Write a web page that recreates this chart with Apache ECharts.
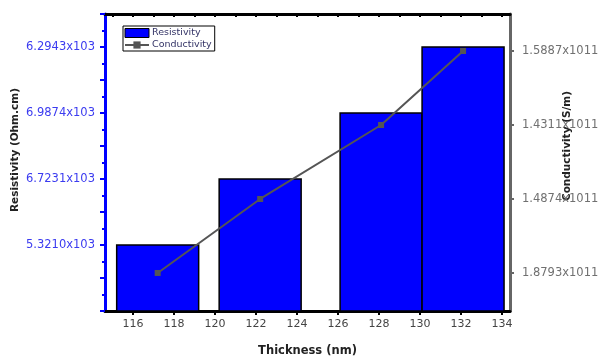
<!DOCTYPE html>
<html>
<head>
<meta charset="utf-8">
<script src="https://cdn.jsdelivr.net/npm/echarts@6/dist/echarts.min.js"></script>
<style>
  html, body { margin: 0; padding: 0; background: #fff; }
  #chart { width: 603px; height: 359px; }
</style>
</head>
<body>
<div id="chart"></div>
<script>
// Film thickness (nm) of each sample
const thickness = [117.2, 122.2, 128.1, 132.1];
// Resistivity: level on the left scale and the label printed at that level
const resistivityLevel = [1, 2, 3, 4];
const resistivityTicks = ['5.3210x103', '6.7231x103', '6.9874x103', '6.2943x103'];
// Conductivity: level on the right scale and the label printed at that level
const conductivityLevel = [1, 2, 3, 4];
const conductivityTicks = ['1.8793x1011', '1.4874x1011', '1.4311x1011', '1.5887x1011'];
// Thickness tick labels
const thicknessTicks = [116, 118, 120, 122, 124, 126, 128, 130, 132, 134];
const barSpan = 4; // bar width in nm

const FONT = 'DejaVu Sans, Verdana, sans-serif';
const chart = echarts.init(document.getElementById('chart'));

const topTicks = [];
for (let t = 115; t <= 134; t++) topTicks.push(t);

chart.setOption({
  animation: false,
  textStyle: { fontFamily: FONT },
  grid: { left: 105, right: 93, top: 14, bottom: 48, outerBoundsMode: 'none', containLabel: false },
  legend: {
    orient: 'vertical',
    left: 123, top: 26,
    padding: [2, 3, 1, 1],
    itemGap: 2,
    itemWidth: 24, itemHeight: 9,
    borderColor: '#000', borderWidth: 1,
    textStyle: { fontSize: 9.5, color: '#333366', fontFamily: FONT, padding: [0, 0, 0, -2] },
    data: [
      { name: 'Resistivity', icon: 'rect', itemStyle: { color: '#0000ff', borderColor: '#000', borderWidth: 1 } },
      { name: 'Conductivity' }
    ]
  },
  xAxis: [
    {
      type: 'value', position: 'bottom', min: 114.63, max: 134.39,
      name: 'Thickness (nm)', nameLocation: 'middle', nameGap: 34, nameMoveOverlap: false,
      nameTextStyle: { fontSize: 11.5, fontWeight: 'bold', color: '#222', fontFamily: FONT },
      axisLine: { lineStyle: { color: '#000', width: 3 } },
      axisTick: { inside: false, length: 4, lineStyle: { color: '#000', width: 2 }, customValues: thicknessTicks },
      axisLabel: { fontSize: 11, color: '#444', margin: 8, customValues: thicknessTicks, fontFamily: FONT },
      splitLine: { show: false }
    },
    {
      type: 'value', position: 'top', min: 114.63, max: 134.39,
      axisLine: { lineStyle: { color: '#000', width: 3 } },
      axisTick: { inside: true, length: 3, lineStyle: { color: '#000', width: 2 }, customValues: topTicks },
      axisLabel: { show: false },
      splitLine: { show: false }
    }
  ],
  yAxis: [
    {
      type: 'value', position: 'left', min: 0, max: 4.5, interval: 0.5,
      name: 'Resistivity (Ohm.cm)', nameLocation: 'middle', nameGap: 84, nameRotate: 90,
      nameMoveOverlap: false,
      nameTextStyle: { fontSize: 10.5, fontWeight: 'bold', color: '#222', padding: [0, 0, 0, 25], fontFamily: FONT },
      axisLine: { onZero: false, lineStyle: { color: '#0000ff', width: 3 } },
      axisTick: { inside: false, length: 5, lineStyle: { color: '#0000ff', width: 2 } },
      minorTick: { show: true, splitNumber: 2, length: 3, lineStyle: { color: '#0000ff', width: 2 } },
      axisLabel: {
        fontSize: 11.5, color: '#3b3bf0', margin: 10, fontFamily: FONT,
        customValues: resistivityLevel,
        formatter: v => resistivityTicks[resistivityLevel.indexOf(v)] || ''
      },
      splitLine: { show: false }
    },
    {
      type: 'value', position: 'right', min: 0.486, max: 4.5,
      name: 'Conductivity (S/m)', nameLocation: 'middle', nameGap: 52, nameRotate: 90,
      nameMoveOverlap: false,
      nameTextStyle: { fontSize: 10.5, fontWeight: 'bold', color: '#222', padding: [0, 0, 0, 33], fontFamily: FONT },
      axisLine: { onZero: false, lineStyle: { color: '#666', width: 3 } },
      axisTick: { inside: false, length: 4, lineStyle: { color: '#666', width: 2 }, customValues: conductivityLevel },
      axisLabel: {
        fontSize: 11.5, color: '#707070', margin: 12, fontFamily: FONT,
        customValues: conductivityLevel,
        formatter: v => conductivityTicks[conductivityLevel.indexOf(v)] || ''
      },
      splitLine: { show: false }
    }
  ],
  series: [
    {
      name: 'Resistivity',
      type: 'custom',
      xAxisIndex: 0, yAxisIndex: 0,
      itemStyle: { color: '#0000ff' },
      encode: { x: 0, y: 1 },
      data: thickness.map((t, i) => [t, resistivityLevel[i]]),
      renderItem: function (params, api) {
        const x = api.value(0), v = api.value(1);
        const p0 = api.coord([x - barSpan / 2, v]);
        const p1 = api.coord([x + barSpan / 2, 0]);
        return {
          type: 'rect',
          shape: { x: p0[0], y: p0[1], width: p1[0] - p0[0], height: p1[1] - p0[1] },
          style: { fill: '#0000ff', stroke: '#000', lineWidth: 1.5 }
        };
      },
      z: 1
    },
    {
      name: 'Conductivity',
      type: 'line',
      xAxisIndex: 0, yAxisIndex: 1,
      data: thickness.map((t, i) => [t, conductivityLevel[i]]),
      symbol: 'rect', symbolSize: 6,
      itemStyle: { color: '#555' },
      lineStyle: { color: '#555', width: 2 },
      z: 3
    }
  ]
});
</script>
</body>
</html>
